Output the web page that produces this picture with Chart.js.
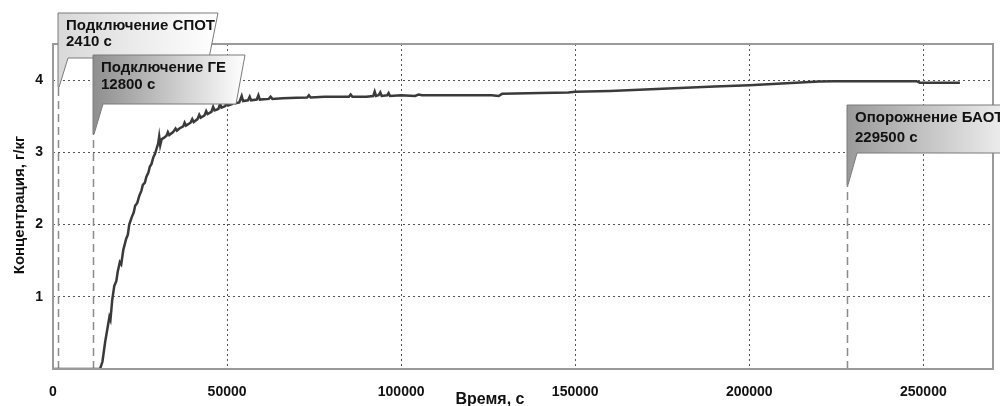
<!DOCTYPE html>
<html>
<head>
<meta charset="utf-8">
<script src="https://cdn.jsdelivr.net/npm/chart.js@4/dist/chart.umd.min.js"></script>
<style>
  html, body { margin: 0; padding: 0; background: #fff; }
  #wrap { width: 1000px; height: 406px; }
</style>
</head>
<body>
<div id="wrap"><canvas id="concChart"></canvas></div>
<script>
// Concentration vs time
const timeSec = [
    0, 13500, 14200, 15000, 15600, 16200, 16500, 17000, 17600, 18200,
    18600, 19200, 19600, 20200, 21000, 21500, 21900, 22600, 23200, 23600,
    24200, 24800, 25400, 25800, 26400, 26800, 27400, 27800, 28300, 28800,
    29300, 29800, 30200, 30500, 30800, 31200, 31800, 32600, 33000, 33400,
    34500, 35200, 35600, 36300, 37400, 37800, 38200, 39500, 40000, 40400,
    41500, 42000, 42400, 43500, 44000, 44400, 45500, 46000, 46400, 47500,
    48000, 48400, 49500, 49900, 50300, 51500, 52000, 52400, 53500, 54200,
    54600, 56000, 56500, 56900, 58500, 59000, 59400, 62000, 62500, 63000,
    66000, 70000, 73000, 73500, 74000, 78000, 85000, 85500, 86000, 90000,
    92000, 92400, 92800, 93500, 94000, 94400, 96000, 96400, 96800, 100000,
    104000, 105000, 106000, 115000, 126000, 128000, 129000, 140000, 148000, 150000,
    160000, 170000, 180000, 190000, 200000, 208000, 216000, 220000, 224500, 248000,
    249000, 260500
];
const concentration = [
    0, 0, 0.1, 0.38, 0.55, 0.72, 0.68, 0.95, 1.15, 1.22,
    1.35, 1.48, 1.45, 1.65, 1.8, 1.86, 2.0, 2.1, 2.17, 2.26,
    2.3, 2.4, 2.47, 2.55, 2.58, 2.66, 2.72, 2.8, 2.84, 2.93,
    2.98, 3.06, 3.12, 3.22, 3.1, 3.18, 3.2, 3.23, 3.28, 3.24,
    3.28, 3.33, 3.3, 3.33, 3.36, 3.41, 3.37, 3.41, 3.46, 3.42,
    3.46, 3.52, 3.48, 3.51, 3.57, 3.53, 3.56, 3.63, 3.58, 3.6,
    3.67, 3.62, 3.64, 3.7, 3.65, 3.67, 3.74, 3.68, 3.69, 3.78,
    3.71, 3.72, 3.77, 3.72, 3.73, 3.79, 3.73, 3.74, 3.77, 3.74,
    3.75, 3.755, 3.76, 3.79, 3.76, 3.77, 3.77, 3.8, 3.77, 3.77,
    3.78, 3.84, 3.78, 3.79, 3.83, 3.78, 3.79, 3.82, 3.78, 3.79,
    3.78, 3.8, 3.79, 3.79, 3.79, 3.78, 3.81, 3.82, 3.83, 3.84,
    3.85, 3.87, 3.89, 3.91, 3.93, 3.95, 3.97, 3.98, 3.985, 3.985,
    3.965, 3.965
];

// Tick values
const xTickValues = [0, 50000, 100000, 150000, 200000, 250000];
const yTickValues = [1, 2, 3, 4];

// Events: dashed line position as drawn in the picture, tip height, callout text
const eventTimes = [1300, 11500, 228000];
const eventTipConc = [3.9, 3.25, 2.55];
const eventLabels = [
    ["Подключение СПОТ", "2410 с"],
    ["Подключение ГЕ", "12800 с"],
    ["Опорожнение БАОТ", "229500 с"]
];

const FONT = "'Liberation Sans', Arial, sans-serif";

// box geometry for each callout: top, bottom, width, text line gap, gradient
const calloutStyle = [
    { top: 13, bottom: 58, width: 160, gap: 16, c0: "#d8d8d8", c1: "#ffffff" },
    { top: 55, bottom: 104, width: 152, gap: 17, c0: "#8e8e8e", c1: "#ffffff" },
    { top: 105, bottom: 153, width: 170, gap: 20, c0: "#9a9a9a", c1: "#f4f4f4" }
];

const eventsPlugin = {
    id: "events",
    beforeDatasetsDraw(chart) {
        const ctx = chart.ctx;
        const x = chart.scales.x, y = chart.scales.y;
        ctx.save();
        ctx.strokeStyle = "#8a8a8a";
        ctx.lineWidth = 1.5;
        ctx.setLineDash([8, 5]);
        eventTimes.forEach((t, i) => {
            const px = Math.round(x.getPixelForValue(t)) + 0.5;
            ctx.beginPath();
            ctx.moveTo(px, y.getPixelForValue(0));
            ctx.lineTo(px, y.getPixelForValue(eventTipConc[i]));
            ctx.stroke();
        });
        ctx.restore();
    },
    afterDraw(chart) {
        const ctx = chart.ctx;
        const x = chart.scales.x, y = chart.scales.y;
        const area = chart.chartArea;

        // frame
        ctx.save();
        ctx.strokeStyle = "#9a9a9a";
        ctx.lineWidth = 2;
        ctx.strokeRect(area.left, area.top, area.right - area.left, area.bottom - area.top);
        ctx.restore();

        // callouts
        eventTimes.forEach((t, i) => {
            const s = calloutStyle[i];
            const left = Math.round(x.getPixelForValue(t));
            const tipY = y.getPixelForValue(eventTipConc[i]);
            const right = left + s.width;
            ctx.save();
            ctx.beginPath();
            ctx.moveTo(left, s.top);
            ctx.lineTo(right, s.top);
            ctx.lineTo(right - 9, s.bottom);
            ctx.lineTo(left + 10, s.bottom);
            ctx.lineTo(left + 1, tipY);
            ctx.lineTo(left, tipY);
            ctx.closePath();
            const g = ctx.createLinearGradient(left, 0, right, 0);
            g.addColorStop(0, s.c0);
            g.addColorStop(1, s.c1);
            ctx.fillStyle = g;
            ctx.fill();
            ctx.strokeStyle = "#7a7a7a";
            ctx.lineWidth = 1;
            ctx.stroke();
            ctx.fillStyle = "#111";
            ctx.font = "bold 15px " + FONT;
            ctx.textBaseline = "alphabetic";
            ctx.fillText(eventLabels[i][0], left + 8, s.top + 17);
            ctx.fillText(eventLabels[i][1], left + 8, s.top + 17 + s.gap);
            ctx.restore();
        });

        // axis titles
        ctx.save();
        ctx.fillStyle = "#111";
        ctx.font = "bold 16px " + FONT;
        ctx.textAlign = "center";
        ctx.fillText("Время, с", 490, 404);
        ctx.translate(20, 205);
        ctx.rotate(-Math.PI / 2);
        ctx.font = "bold 15px " + FONT;
        ctx.textBaseline = "middle";
        ctx.fillText("Концентрация, г/кг", 0, 0);
        ctx.restore();
    }
};

document.addEventListener("DOMContentLoaded", function () {
    const canvas = document.getElementById("concChart");
    new Chart(canvas.getContext("2d"), {
        type: "line",
        data: {
            datasets: [
                {
                    label: "Концентрация",
                    data: timeSec.map((t, i) => ({ x: t, y: concentration[i] })),
                    borderColor: "#3a3a3a",
                    borderWidth: 2.5,
                    pointRadius: 0,
                    tension: 0,
                    fill: false,
                },
            ],
        },
        options: {
            responsive: true,
            maintainAspectRatio: false,
            animation: false,
            layout: { padding: { top: 44, right: 7, left: 0, bottom: 0 } },
            plugins: { legend: { display: false }, tooltip: { enabled: false } },
            scales: {
                x: {
                    type: "linear",
                    min: 0,
                    max: 270000,
                    afterBuildTicks: (s) => { s.ticks = xTickValues.map(v => ({ value: v })); },
                    afterFit: (s) => { s.height = 37; },
                    ticks: {
                        autoSkip: false,
                        maxRotation: 0,
                        padding: 15,
                        color: "#111",
                        font: { family: FONT, size: 14, weight: "bold" },
                        callback: (v) => String(v),
                    },
                    grid: { color: "#555", lineWidth: 1, drawTicks: false },
                    border: { display: false, dash: [2, 3] },
                },
                y: {
                    min: 0,
                    max: 4.5,
                    afterBuildTicks: (s) => { s.ticks = yTickValues.map(v => ({ value: v })); },
                    afterFit: (s) => { s.width = 53; },
                    ticks: {
                        autoSkip: false,
                        padding: 10,
                        color: "#111",
                        font: { family: FONT, size: 14, weight: "bold" },
                        callback: (v) => String(v),
                    },
                    grid: { color: "#555", lineWidth: 1, drawTicks: false },
                    border: { display: false, dash: [2, 3] },
                },
            },
        },
        plugins: [eventsPlugin],
    });
});
</script>
</body>
</html>
